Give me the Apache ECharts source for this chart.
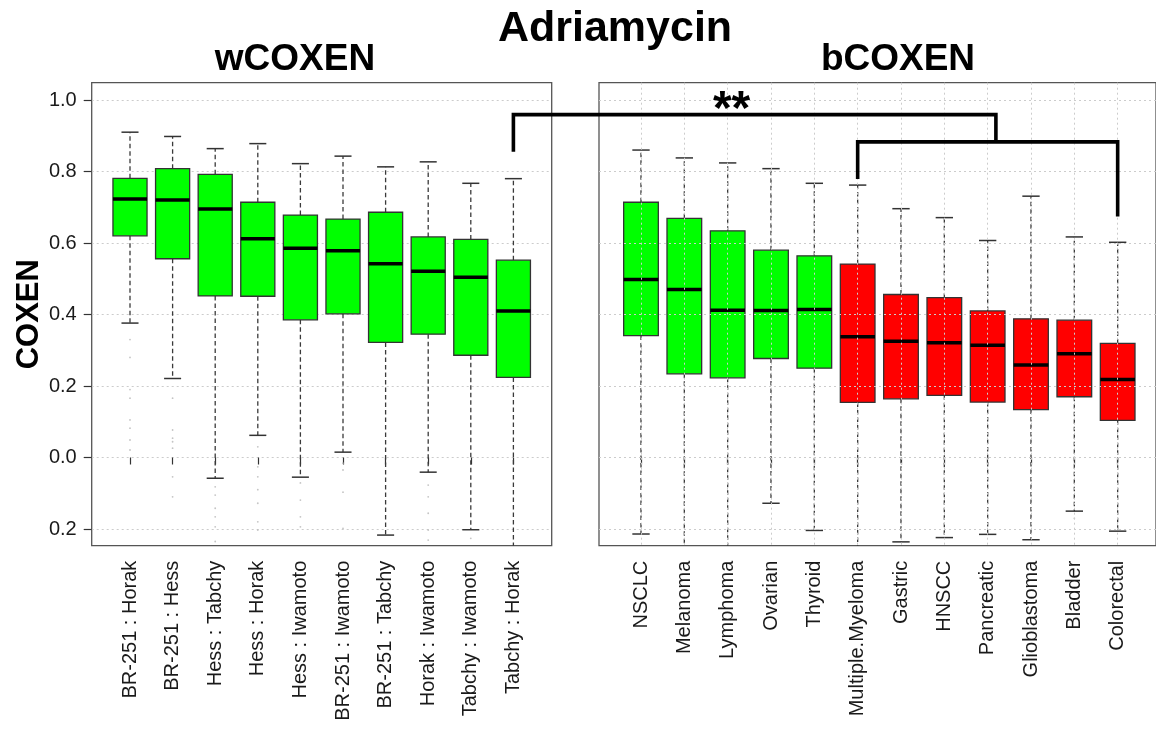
<!DOCTYPE html>
<html>
<head>
<meta charset="utf-8">
<script src="https://cdn.jsdelivr.net/npm/echarts@6/dist/echarts.min.js"></script>
<style>
  html, body { margin: 0; padding: 0; background: #ffffff; }
  #chart { width: 1156px; height: 729px; }
</style>
</head>
<body>
<div id="chart"></div>
<script>
// ---- data -------------------------------------------------------------
const yTicks = [-0.2, 0, 0.2, 0.4, 0.6, 0.8, 1.0];

// within-study COXEN (dataset pairs)
const wNames = ['BR-251 : Horak', 'BR-251 : Hess', 'Hess : Tabchy', 'Hess : Horak', 'Hess : Iwamoto',
                'BR-251 : Iwamoto', 'BR-251 : Tabchy', 'Horak : Iwamoto', 'Tabchy : Iwamoto', 'Tabchy : Horak'];
const wHigh = [0.910, 0.898, 0.864, 0.878, 0.822, 0.843, 0.813, 0.827, 0.767, 0.780];
const wQ3   = [0.781, 0.808, 0.792, 0.714, 0.678, 0.667, 0.686, 0.617, 0.610, 0.552];
const wMed  = [0.723, 0.720, 0.695, 0.612, 0.585, 0.578, 0.542, 0.521, 0.504, 0.410];
const wQ1   = [0.620, 0.556, 0.452, 0.451, 0.385, 0.402, 0.322, 0.345, 0.286, 0.224];
const wLow  = [0.376, 0.221, -0.058, 0.062, -0.055, 0.015, -0.217, -0.041, -0.202, -0.270];
const wOutliers = [
  [0, 0.33], [0, 0.28], [0, 0.19], [0, 0.166], [0, 0.105], [0, 0.082], [0, 0.049], [0, 0.021],
  [1, 0.166], [1, 0.077], [1, 0.054], [1, 0.044], [1, 0.026], [1, -0.054], [1, -0.11],
  [2, -0.082], [2, -0.105], [2, -0.142], [2, -0.166], [2, -0.194], [2, -0.235],
  [3, 0.03], [3, -0.026], [3, -0.054], [3, -0.09], [3, -0.128], [3, -0.18], [3, -0.203],
  [4, -0.071], [4, -0.119], [4, -0.166], [4, -0.194],
  [5, -0.016], [5, -0.035], [5, -0.097], [5, -0.198],
  [7, -0.077], [7, -0.11], [7, -0.156], [7, -0.203], [7, -0.231],
  [8, -0.226]
];

// between-study COXEN (cancer types)
const bNames = ['NSCLC', 'Melanoma', 'Lymphoma', 'Ovarian', 'Thyroid', 'Multiple.Myeloma',
                'Gastric', 'HNSCC', 'Pancreatic', 'Glioblastoma', 'Bladder', 'Colorectal'];
const bHigh = [0.860, 0.838, 0.824, 0.808, 0.767, 0.762, 0.696, 0.671, 0.607, 0.731, 0.617, 0.602];
const bQ3   = [0.714, 0.669, 0.634, 0.580, 0.564, 0.541, 0.456, 0.447, 0.410, 0.388, 0.384, 0.319];
const bMed  = [0.498, 0.470, 0.412, 0.411, 0.414, 0.338, 0.325, 0.321, 0.314, 0.259, 0.290, 0.218];
const bQ1   = [0.341, 0.234, 0.223, 0.277, 0.250, 0.154, 0.164, 0.174, 0.155, 0.134, 0.170, 0.104];
const bLow  = [-0.214, -0.270, -0.270, -0.128, -0.204, -0.270, -0.236, -0.224, -0.215, -0.230, -0.150, -0.206];
const bGroup = ['high', 'high', 'high', 'high', 'high', 'low', 'low', 'low', 'low', 'low', 'low', 'low'];
const bOutliers = [[10, -0.17]];

// significance brackets (COXEN levels)
const bracketTop = 0.959;
const bracketInner = 0.883;
const footTabchyHorak = 0.855;
const footMyeloma = 0.779;
const footColorectal = 0.674;
const starsLabel = '**';

// ---- chart ------------------------------------------------------------
const FONT = '"Liberation Sans", Arial, Helvetica, sans-serif';
const Y_MIN = -0.2467, Y_MAX = 1.0484;
const GREEN = '#00ff00', RED = '#ff0000';

const PANEL_TOP = 82.7, PANEL_H = 463;

function boxRenderer(colorOf) {
  return function (params, api) {
    const i = api.value(0);
    const lo = api.value(1), q1 = api.value(2), md = api.value(3), q3 = api.value(4), hi = api.value(5);
    const x = api.coord([i, md])[0];
    const band = api.size([1, 0])[0];
    const bw = band * 0.8, cw = bw * 0.5;
    const Y = v => api.coord([i, Math.max(Y_MIN, Math.min(Y_MAX, v))])[1];
    const whisker = { stroke: '#3a3a3a', lineWidth: 1.3, lineDash: [4.5, 3], fill: null };
    const cap = { stroke: '#333', lineWidth: 1.5, fill: null };
    const kids = [
      { type: 'line', shape: { x1: x, y1: Y(q3), x2: x, y2: Y(hi) }, style: whisker },
      { type: 'line', shape: { x1: x, y1: Y(q1), x2: x, y2: Y(lo) }, style: whisker }
    ];
    if (hi <= Y_MAX) kids.push({ type: 'line', shape: { x1: x - cw / 2, y1: Y(hi), x2: x + cw / 2, y2: Y(hi) }, style: cap });
    if (lo >= Y_MIN) kids.push({ type: 'line', shape: { x1: x - cw / 2, y1: Y(lo), x2: x + cw / 2, y2: Y(lo) }, style: cap });
    kids.push({
      type: 'rect',
      shape: { x: x - bw / 2, y: Y(q3), width: bw, height: Y(q1) - Y(q3) },
      style: { fill: colorOf(params.dataIndex), stroke: '#333', lineWidth: 1.3 }
    });
    kids.push({ type: 'line', shape: { x1: x - bw / 2, y1: Y(md), x2: x + bw / 2, y2: Y(md) }, style: { stroke: '#000', lineWidth: 3.5 } });
    return { type: 'group', children: kids };
  };
}

const dottedGrid = { show: true, lineStyle: { color: '#cccccc', width: 1, type: [2, 3] } };

const hiddenValueY = { type: 'value', min: Y_MIN, max: Y_MAX, show: false };

function catAxis(names, gridIndex) {
  return {
    type: 'category', gridIndex, data: names, boundaryGap: true,
    axisLine: { show: false },
    axisTick: { show: true, alignWithLabel: true, length: 7, lineStyle: { color: '#333', width: 1.2 } },
    axisLabel: { interval: 0, rotate: 90, fontSize: 20, color: '#1a1a1a', fontFamily: FONT, margin: 15 },
    splitLine: { show: false }
  };
}

const chart = echarts.init(document.getElementById('chart'), null, { renderer: 'canvas' });

chart.setOption({
  animation: false,
  backgroundColor: '#ffffff',
  grid: [
    // panel frames
    { left: 91.7, top: PANEL_TOP, width: 460, height: PANEL_H, show: true, borderColor: '#555', borderWidth: 1.3, backgroundColor: 'transparent' },
    // wCOXEN category area
    { left: 130 - 21.3, top: PANEL_TOP, width: 426, height: PANEL_H },
    { left: 599, top: PANEL_TOP, width: 562, height: PANEL_H, show: true, borderColor: '#555', borderWidth: 1.3, backgroundColor: 'transparent' },
    // bCOXEN category area
    { left: 641 - 21.67, top: PANEL_TOP, width: 520, height: PANEL_H },
    // bCOXEN vertical grid, first to last category
    { left: 641, top: PANEL_TOP, width: 476.67, height: PANEL_H }
  ],
  xAxis: [
    { type: 'value', gridIndex: 0, min: 0, max: 1, show: false },
    catAxis(wNames, 1),
    { type: 'value', gridIndex: 2, min: 0, max: 1, show: false },
    catAxis(bNames, 3),
    {
      type: 'category', gridIndex: 4, data: bNames, boundaryGap: false, z: 5,
      axisLine: { show: false }, axisTick: { show: false }, axisLabel: { show: false },
      splitLine: Object.assign({ interval: 0 }, dottedGrid)
    }
  ],
  yAxis: [
    {
      type: 'value', gridIndex: 0, min: Y_MIN, max: Y_MAX,
      name: 'COXEN', nameLocation: 'middle', nameGap: 46, nameRotate: 90,
      nameTextStyle: { fontSize: 31, fontWeight: 'bold', color: '#000', fontFamily: FONT },
      axisLine: { show: false },
      axisTick: { show: true, length: 8, customValues: yTicks, lineStyle: { color: '#333', width: 1.2 } },
      axisLabel: {
        show: true, customValues: yTicks, fontSize: 20, color: '#1a1a1a', fontFamily: FONT, margin: 15,
        formatter: v => Math.abs(v).toFixed(1)
      },
      splitLine: dottedGrid
    },
    Object.assign({ gridIndex: 1 }, hiddenValueY),
    {
      type: 'value', gridIndex: 2, min: Y_MIN, max: Y_MAX, z: 5,
      axisLine: { show: false },
      axisTick: { show: true, length: 0, customValues: yTicks, lineStyle: { color: 'rgba(0,0,0,0)' } },
      axisLabel: { show: false, customValues: yTicks },
      splitLine: dottedGrid
    },
    Object.assign({ gridIndex: 3 }, hiddenValueY),
    Object.assign({ gridIndex: 4 }, hiddenValueY)
  ],
  series: [
    {
      type: 'scatter', xAxisIndex: 1, yAxisIndex: 1, data: wOutliers,
      symbol: 'circle', symbolSize: 1.8, itemStyle: { color: '#b5b5b5' }, silent: true
    },
    {
      type: 'scatter', xAxisIndex: 3, yAxisIndex: 3, data: bOutliers,
      symbol: 'circle', symbolSize: 1.8, itemStyle: { color: '#b5b5b5' }, silent: true
    },
    {
      type: 'custom', xAxisIndex: 1, yAxisIndex: 1,
      renderItem: boxRenderer(() => GREEN),
      encode: { x: 0, y: [1, 2, 3, 4, 5] },
      data: wNames.map((_, i) => [i, wLow[i], wQ1[i], wMed[i], wQ3[i], wHigh[i]]),
      z: 3
    },
    {
      type: 'custom', xAxisIndex: 3, yAxisIndex: 3,
      renderItem: boxRenderer(i => (bGroup[i] === 'high' ? GREEN : RED)),
      encode: { x: 0, y: [1, 2, 3, 4, 5] },
      data: bNames.map((_, i) => [i, bLow[i], bQ1[i], bMed[i], bQ3[i], bHigh[i]]),
      z: 3
    }
  ]
});

// ---- titles and significance brackets ---------------------------------
function px(axisPair, cat, val) {
  return chart.convertToPixel(axisPair, [cat, val]);
}
const W = { xAxisIndex: 1, yAxisIndex: 1 };
const B = { xAxisIndex: 3, yAxisIndex: 3 };

// horizontal position between two bCOXEN categories
function bX(pos) {
  const a = Math.floor(pos);
  const f = pos - a;
  const p0 = px(B, a, 0)[0], p1 = px(B, a + 1, 0)[0];
  return p0 + f * (p1 - p0);
}

const yOf = v => px(B, 0, v)[1];
const xTH = px(W, wNames.indexOf('Tabchy : Horak'), 0)[0];
const xMM = px(B, bNames.indexOf('Multiple.Myeloma'), 0)[0];
const xCR = px(B, bNames.indexOf('Colorectal'), 0)[0];
const xJoin = bX(8.19);
const xStars = bX(2.09);

const bracketStyle = { stroke: '#000', lineWidth: 3.6, fill: null, lineJoin: 'miter' };

chart.setOption({
  graphic: [
    { type: 'text', x: 615, y: 29, z: 10, style: { text: 'Adriamycin', font: 'bold 43px ' + FONT, fill: '#000', align: 'center', verticalAlign: 'middle' } },
    { type: 'text', x: 295, y: 60, z: 10, style: { text: 'wCOXEN', font: 'bold 37px ' + FONT, fill: '#000', align: 'center', verticalAlign: 'middle' } },
    { type: 'text', x: 898, y: 60, z: 10, style: { text: 'bCOXEN', font: 'bold 37px ' + FONT, fill: '#000', align: 'center', verticalAlign: 'middle' } },
    {
      type: 'polyline', z: 20,
      shape: { points: [[xTH, yOf(footTabchyHorak)], [xTH, yOf(bracketTop)], [xJoin, yOf(bracketTop)], [xJoin, yOf(bracketInner)]] },
      style: bracketStyle
    },
    {
      type: 'polyline', z: 20,
      shape: { points: [[xMM, yOf(footMyeloma)], [xMM, yOf(bracketInner)], [xCR, yOf(bracketInner)], [xCR, yOf(footColorectal)]] },
      style: bracketStyle
    },
    { type: 'text', x: xStars, y: yOf(bracketTop) + 20, z: 20, style: { text: starsLabel, font: 'bold 48px ' + FONT, fill: '#000', align: 'center', verticalAlign: 'bottom' } }
  ]
});
</script>
</body>
</html>
